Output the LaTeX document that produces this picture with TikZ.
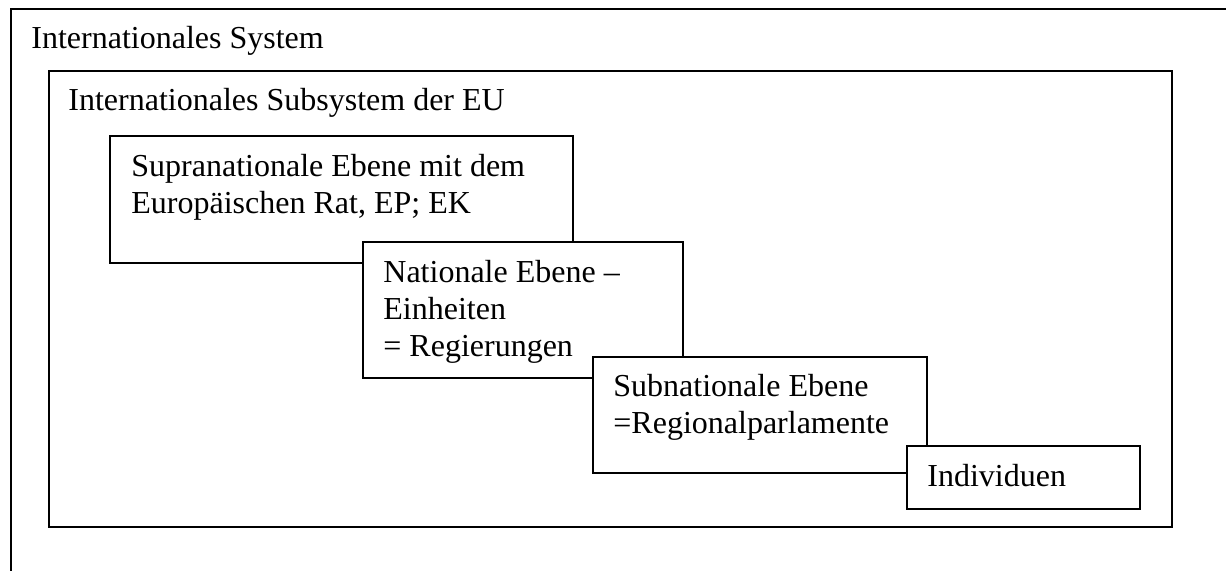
\documentclass[tikz,border=0pt]{standalone}
\usepackage{fontspec}
\setmainfont{Liberation Serif}
\usetikzlibrary{positioning}

\tikzset{
  lvlbox/.style={draw, fill=white, line width=1pt, anchor=north west, inner sep=0pt},
  lvltext/.style={align=left, inner sep=0pt, font=\fontsize{16pt}{18.5pt}\selectfont}
}

\begin{document}
\begin{tikzpicture}[x=0.5pt, y=-0.5pt]
	\useasboundingbox (0,0) rectangle (1226,570);
	\clip (0,0) rectangle (1226,570);
	% outer frame runs past the page on the right and bottom
	\node[lvlbox, minimum width=650pt, minimum height=300pt] (sys) at (10,8) {};
	\node[lvltext, below right=9pt and 10.5pt of sys.north west] (systxt) {Internationales System};
	\node[lvlbox, minimum width=561.5pt, minimum height=228pt] (eu) at (48,70) {};
	\node[lvltext, below right=9pt and 10pt of eu.north west] (eutxt) {Internationales Subsystem der EU};
	% the levels, stepping down
	\node[lvlbox, minimum width=231.5pt, minimum height=63.5pt] (supra) at (109,135) {};
	\node[lvltext, below right=9.5pt and 11pt of supra.north west] (supratxt) {Supranationale Ebene mit dem\\Europäischen Rat, EP; EK};
	\node[lvlbox, minimum width=160pt, minimum height=68pt] (nat) at (362,241) {};
	\node[lvltext, below right=9.5pt and 10.5pt of nat.north west] (nattxt) {Nationale Ebene --\\Einheiten\\= Regierungen};
	\node[lvlbox, minimum width=167pt, minimum height=58pt] (sub) at (592,356) {};
	\node[lvltext, below right=9pt and 10.5pt of sub.north west] (subtxt) {Subnationale Ebene\\=Regionalparlamente};
	\node[lvlbox, minimum width=116.5pt, minimum height=31.5pt] (ind) at (906,445) {};
	\node[lvltext, below right=9.5pt and 10.5pt of ind.north west] (indtxt) {Individuen};
\end{tikzpicture}
\end{document}
